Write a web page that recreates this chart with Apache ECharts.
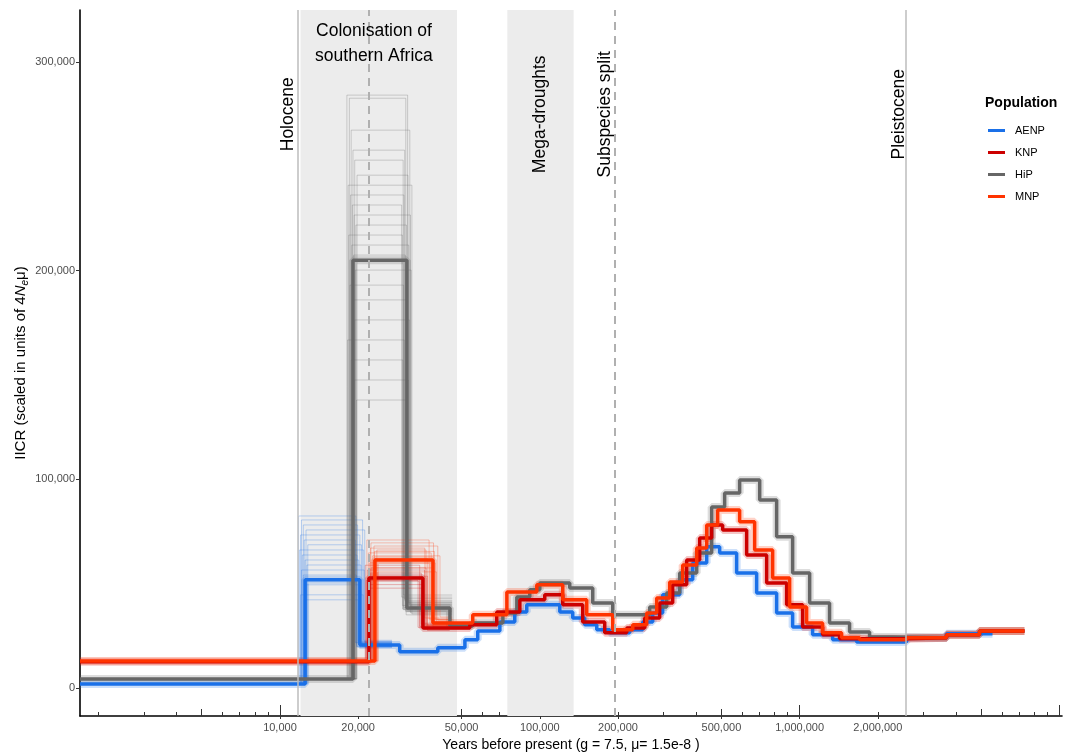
<!DOCTYPE html>
<html>
<head>
<meta charset="utf-8">
<title>IICR</title>
<script src="https://cdn.jsdelivr.net/npm/echarts@6/dist/echarts.min.js"></script>
<style>
  html, body { margin: 0; padding: 0; background: #fff; }
  #chart { width: 1077px; height: 752px; }
</style>
</head>
<body>
<div id="chart"></div>
<script>
  // step starts (years before present) and IICR values, main estimate per population
  var aenpYears = [1700, 12500, 20300, 28900, 40500, 51500, 57700, 70200, 80100, 89100, 119400, 133900, 148900, 165700, 185900, 221900, 249000, 272000, 297100, 345500, 387700, 438900, 492400, 572300, 683300, 815800, 940000, 1122000, 1340000, 1657000, 2580000, 3676000, 5524000];
  var aenpIicr = [1900, 51800, 20600, 17300, 19200, 23000, 27300, 31600, 36400, 39800, 36400, 33500, 30200, 27800, 26400, 27800, 31600, 35900, 44600, 51800, 59900, 67600, 64700, 55100, 45500, 35900, 29200, 25400, 23000, 22000, 24000, 25900, 25900];

  var hipYears = [1700, 19100, 30800, 45100, 55200, 72100, 81600, 91500, 100000, 130400, 159900, 190900, 264900, 307900, 345500, 401700, 458700, 514600, 587700, 702000, 815800, 940000, 1093000, 1304000, 1557000, 1859000, 2279000, 3676000, 4924000, 7336000];
  var hipIicr = [4300, 205000, 38300, 29700, 31100, 35900, 43600, 47000, 50300, 47900, 40700, 35000, 38800, 45500, 55100, 64700, 86700, 93400, 99700, 90100, 72400, 55100, 40700, 31100, 26800, 24400, 24000, 25400, 27300, 27300];

  var knpYears = [1700, 22000, 35500, 53800, 68300, 83800, 104500, 122600, 146300, 177800, 216100, 253400, 289300, 324700, 367600, 412500, 458700, 505600, 625400, 746800, 891300, 1027000, 1226000, 1425000, 2580000, 3676000, 4924000, 7336000];
  var knpIicr = [12500, 52700, 28700, 30200, 36400, 42200, 44600, 39800, 31600, 26400, 28700, 33500, 40700, 49400, 61300, 71900, 78100, 75700, 63700, 50300, 39800, 29200, 25400, 23500, 24000, 25400, 27300, 27300];

  var mnpYears = [1700, 23200, 38800, 55200, 74700, 97400, 122600, 151600, 190900, 227900, 257900, 281800, 316200, 354800, 401700, 438900, 483700, 587700, 671300, 787500, 915300, 1064000, 1226000, 1451000, 1702000, 2580000, 3676000, 4924000, 7336000];
  var mnpIicr = [12900, 61300, 31100, 35000, 46000, 49400, 42200, 35000, 27800, 30200, 35900, 43100, 50800, 58900, 67100, 78100, 85300, 79600, 66100, 52700, 38800, 31100, 26400, 24000, 23000, 24000, 25400, 27300, 27300];

  // bootstrap replicates around the recent peaks: rise time, peak, fall time, level after
  var hipBootRise = [18100, 18500, 18800, 19100, 19400, 19800, 18300, 18700, 19000, 19300, 19600, 18400, 18900, 19200, 19500, 18600, 19000, 19400, 18200, 18800, 19300, 19700];
  var hipBootTop = [284200, 282700, 267400, 257800, 253000, 245800, 241000, 236300, 231500, 226700, 221900, 217100, 212300, 207500, 200300, 193100, 186000, 176400, 166800, 157200, 147600, 138000];
  var hipBootFall = [31000, 30500, 31600, 30200, 29800, 31100, 32200, 30000, 29400, 31800, 30700, 29600, 31300, 30400, 32000, 29900, 30900, 31500, 30100, 29700, 31200, 30600];
  var hipBootAfter = [40000, 36500, 39000, 42000, 37500, 41000, 35500, 38500, 43500, 36000, 40500, 39500, 37000, 41500, 38000, 44500, 36800, 39800, 42800, 37800, 40800, 35000];

  var aenpBootRise = [11800, 12100, 12300, 12600, 12000, 12400, 12800, 11900, 12200, 12500, 12700, 12100, 12300, 12600, 12000, 12400];
  var aenpBootTop = [82400, 80500, 78100, 75700, 73300, 70900, 68600, 66100, 63700, 61300, 58900, 56500, 54100, 49400, 44600, 42200];
  var aenpBootFall = [19600, 20800, 19900, 21200, 20300, 19500, 20600, 21000, 19800, 20100, 20500, 21100, 19700, 20400, 20900, 20000];
  var aenpBootAfter = [21500, 19800, 22300, 20900, 19400, 21800, 20200, 22800, 19900, 21200, 20600, 22000, 19600, 21000, 20400, 21600];

  var mnpBootRise = [21600, 22400, 23000, 23600, 21900, 22700, 23300, 22100, 22900, 23800, 22300, 23100];
  var mnpBootTop = [70900, 69500, 68000, 66100, 64700, 63300, 62000, 59900, 57500, 55600, 67000, 65400];
  var mnpBootFall = [37500, 39000, 40500, 36500, 38200, 41300, 37000, 39600, 38800, 40000, 36100, 39300];
  var mnpBootAfter = [33000, 30500, 32500, 29800, 31800, 34000, 30000, 32800, 29500, 31300, 33500, 30800];

  var knpBootRise = [21300, 21700, 22200, 22600, 21500, 22000, 22400, 21800];
  var knpBootTop = [58800, 56500, 55000, 53500, 51500, 49500, 57500, 47800];
  var knpBootFall = [34500, 36000, 35000, 37000, 34000, 35800, 36500, 35200];
  var knpBootAfter = [29500, 28000, 30500, 27500, 29000, 31000, 28500, 30000];

  // events
  var solidLines = [11700, 2580000];
  var dashedLines = [22000, 194000];
  var bands = [[12000, 48000], [75000, 135000]];
  var notes = [
    {text: 'Holocene', year: 10800, value: 275000, rotate: 90},
    {text: 'Colonisation of\nsouthern Africa', year: 23000, value: 309000, rotate: 0},
    {text: 'Mega-droughts', year: 100500, value: 275000, rotate: 90},
    {text: 'Subspecies split', year: 178000, value: 275000, rotate: 90},
    {text: 'Pleistocene', year: 2420000, value: 275000, rotate: 90}
  ];

  // axes
  var xLabelYears = [10000, 20000, 50000, 100000, 200000, 500000, 1000000, 2000000];
  var yLabelValues = [0, 100000, 200000, 300000];
  var xMinYear = 1700, xMaxYear = 10230000;
  var yMin = -13500, yMax = 325000;

  var FONT = "'Liberation Sans', Arial, Helvetica, sans-serif";
  var colors = {AENP: '#1a70e8', KNP: '#cc0000', HiP: '#666666', MNP: '#ff3300'};

  function lg(v) { return Math.log10(v); }
  function fmt(v) { return Math.round(v).toLocaleString('en-US'); }

  function stepData(years, vals) {
    return years.map(function (t, i) { return [lg(t), vals[i]]; });
  }

  function bootSeries(color, start, base, rise, top, fall, after, end) {
    return rise.map(function (r, i) {
      return {
        type: 'line', step: 'end', showSymbol: false, silent: true, z: 3,
        lineStyle: {color: color, width: 1, opacity: 0.28},
        data: [[lg(start), base], [lg(r), top[i]], [lg(fall[i]), after[i]], [lg(end), after[i]]]
      };
    });
  }

  // log ticks drawn up from the axis (10^n long, 5x10^n mid, rest short)
  var shortTicks = [], midTicks = [], longTicks = [];
  for (var p = 3; p <= 7; p++) {
    for (var m = 1; m <= 9; m++) {
      var t = m * Math.pow(10, p);
      if (t < xMinYear || t > xMaxYear) continue;
      if (m === 1) longTicks.push(lg(t));
      else if (m === 5) midTicks.push(lg(t));
      else shortTicks.push(lg(t));
    }
  }

  function tickAxis(vals, len) {
    return {
      type: 'value', min: lg(xMinYear), max: lg(xMaxYear), position: 'bottom', gridIndex: 0, offset: 0,
      axisLine: {show: false, onZero: false}, axisLabel: {show: false}, splitLine: {show: false},
      axisTick: {show: true, inside: true, length: len, customValues: vals, lineStyle: {color: '#333', width: 1}}
    };
  }

  var pops = [
    {name: 'AENP', years: aenpYears, vals: aenpIicr},
    {name: 'HiP', years: hipYears, vals: hipIicr},
    {name: 'KNP', years: knpYears, vals: knpIicr},
    {name: 'MNP', years: mnpYears, vals: mnpIicr}
  ];

  var series = [];

  // background bands and event lines
  series.push({
    type: 'line', data: [], z: 0, silent: true,
    markArea: {
      silent: true,
      itemStyle: {color: '#ececec'},
      data: bands.map(function (b) { return [{xAxis: lg(b[0])}, {xAxis: lg(b[1])}]; })
    },
    markLine: {
      silent: true, symbol: 'none', label: {show: false},
      data: solidLines.map(function (v) {
        return {xAxis: lg(v), lineStyle: {color: '#bdbdbd', width: 1.5, type: 'solid'}};
      }).concat(dashedLines.map(function (v) {
        return {xAxis: lg(v), lineStyle: {color: '#b0b0b0', width: 2, type: [8, 6]}};
      }))
    }
  });

  // soft halo under each main line
  pops.forEach(function (p) {
    series.push({
      type: 'line', step: 'end', showSymbol: false, silent: true, z: 2,
      lineStyle: {color: colors[p.name], width: 8, opacity: 0.22},
      data: stepData(p.years, p.vals)
    });
  });

  series = series
    .concat(bootSeries(colors.AENP, 9000, 1900, aenpBootRise, aenpBootTop, aenpBootFall, aenpBootAfter, 27000))
    .concat(bootSeries(colors.HiP, 15000, 4300, hipBootRise, hipBootTop, hipBootFall, hipBootAfter, 46000))
    .concat(bootSeries(colors.KNP, 19000, 12500, knpBootRise, knpBootTop, knpBootFall, knpBootAfter, 45000))
    .concat(bootSeries(colors.MNP, 19000, 12900, mnpBootRise, mnpBootTop, mnpBootFall, mnpBootAfter, 46000));

  pops.forEach(function (p) {
    series.push({
      name: p.name, type: 'line', step: 'end', showSymbol: false, silent: true, z: 4,
      color: colors[p.name],
      lineStyle: {color: colors[p.name], width: 3.5},
      data: stepData(p.years, p.vals)
    });
  });

  series.push({
    type: 'scatter', z: 6, silent: true, symbolSize: 1,
    itemStyle: {color: 'rgba(0,0,0,0)'},
    label: {show: true, position: 'inside', color: '#000', opacity: 1, textBorderWidth: 0,
      fontFamily: FONT, fontSize: 17.5, lineHeight: 25, align: 'center', verticalAlign: 'middle'},
    data: notes.map(function (n) {
      return {value: [lg(n.year), n.value], label: {formatter: n.text, rotate: n.rotate}};
    })
  });

  var chart = echarts.init(document.getElementById('chart'), null, {renderer: 'canvas'});
  chart.setOption({
    animation: false,
    backgroundColor: '#fff',
    textStyle: {fontFamily: FONT},
    grid: {left: 80, right: 15, top: 10, bottom: 36, outerBoundsMode: 'none', containLabel: false},
    legend: {
      data: ['AENP', 'KNP', 'HiP', 'MNP'],
      orient: 'vertical', left: 983, top: 120,
      icon: 'rect', itemWidth: 17, itemHeight: 3, itemGap: 11,
      selectedMode: false,
      textStyle: {fontFamily: FONT, fontSize: 11, color: '#000', padding: [0, 0, 0, 5]}
    },
    graphic: [{
      type: 'text', left: 985, top: 96,
      style: {text: 'Population', font: 'bold 14px ' + FONT, fill: '#000'}
    }],
    xAxis: [{
      type: 'value', min: lg(xMinYear), max: lg(xMaxYear), position: 'bottom',
      axisLine: {show: true, onZero: false, lineStyle: {color: '#000', width: 1.6}},
      axisTick: {show: true, length: 3, customValues: xLabelYears.map(lg), lineStyle: {color: '#333'}},
      axisLabel: {customValues: xLabelYears.map(lg), formatter: function (v) { return fmt(Math.pow(10, v)); },
        color: '#4d4d4d', fontSize: 11, margin: 6, fontFamily: FONT},
      splitLine: {show: false},
      name: 'Years before present (g = 7.5, \u03bc= 1.5e-8 )', nameLocation: 'middle', nameGap: 21,
      nameTextStyle: {color: '#000', fontSize: 14, fontFamily: FONT}
    }, tickAxis(shortTicks, 4), tickAxis(midTicks, 7), tickAxis(longTicks, 11)],
    yAxis: {
      type: 'value', min: yMin, max: yMax,
      axisLine: {show: true, onZero: false, lineStyle: {color: '#000', width: 1.6}},
      axisTick: {show: true, length: 4, customValues: yLabelValues, lineStyle: {color: '#333'}},
      axisLabel: {customValues: yLabelValues, formatter: fmt, color: '#4d4d4d', fontSize: 11, margin: 5, fontFamily: FONT},
      splitLine: {show: false},
      name: 'IICR (scaled in units of 4{it|N}{sub|e}\u03bc)', nameLocation: 'middle', nameGap: 50, nameRotate: 90,
      nameMoveOverlap: false,
      nameTextStyle: {
        color: '#000', fontSize: 15, fontFamily: FONT, lineHeight: 18,
        rich: {
          it: {fontStyle: 'italic', fontSize: 15, fontFamily: FONT, color: '#000'},
          sub: {fontStyle: 'italic', fontSize: 10, fontFamily: FONT, color: '#000', verticalAlign: 'bottom', lineHeight: 10}
        }
      }
    },
    series: series
  });
</script>
</body>
</html>
